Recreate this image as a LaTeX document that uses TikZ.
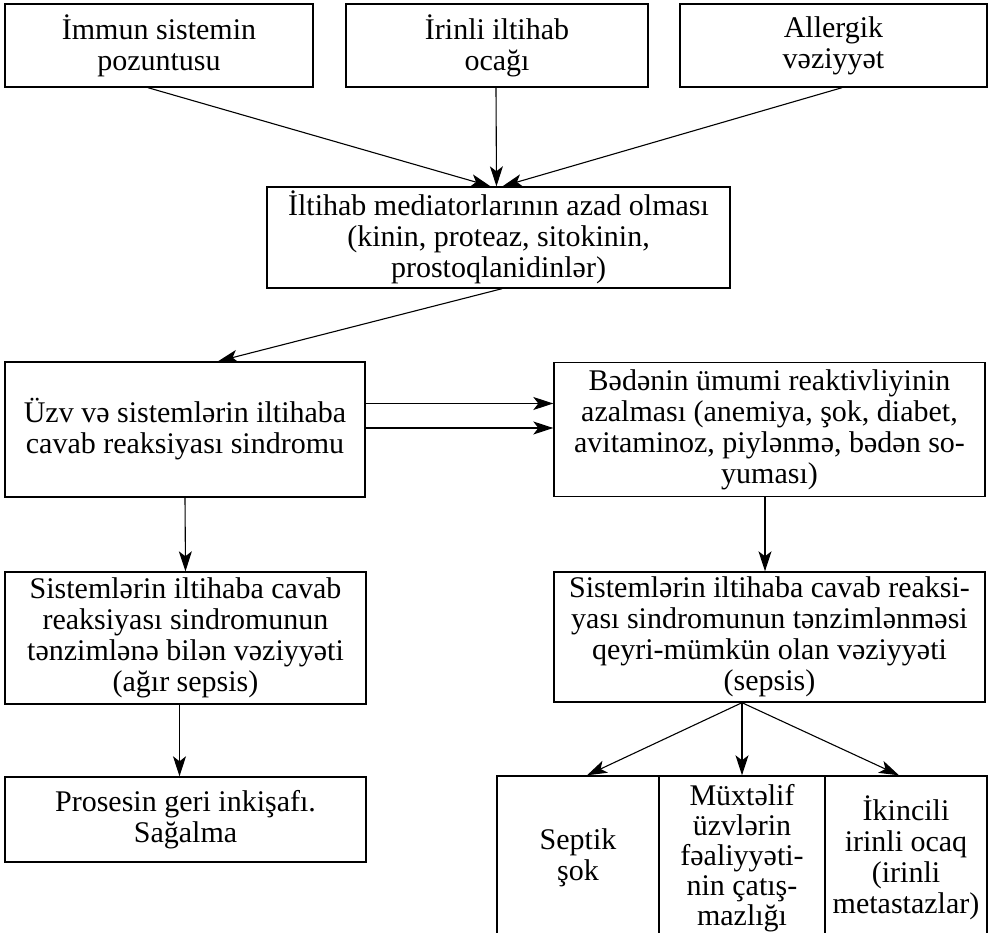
\documentclass[tikz,border=0pt]{standalone}
\usepackage{fontspec}
\setmainfont{Liberation Serif}
\usetikzlibrary{arrows.meta,calc}
\begin{document}
\begin{tikzpicture}[x=1pt,y=-1pt,
  box/.style={draw, line width=1.4pt, rectangle, inner sep=0pt, align=center, font=\fontsize{30}{31}\selectfont},
  arr/.style={line width=1.1pt, -{Stealth[length=20pt,width=13pt,inset=5pt]}}]
\useasboundingbox (0,0) rectangle (989,933);
\clip (0,0) rectangle (989,933);
% top row
\node[box, minimum width=308pt, minimum height=83pt] (b1) at (159,45.5) {İmmun sistemin\\pozuntusu};
\node[box, minimum width=302pt, minimum height=83pt] (b2) at (497,45.5) {İrinli iltihab\\ocağı};
\node[box, minimum width=307pt, minimum height=83pt] (b3) at (833.5,45.5) {Allergik\\vəziyyət};
% mediators
\node[box, minimum width=463pt, minimum height=101pt] (med) at (498.5,237.5) {İltihab mediatorlarının azad olması\\(kinin, proteaz, sitokinin,\\prostoqlanidinlər)};
% second level
\node[box, minimum width=360pt, minimum height=135pt] (uzv) at (185,429.5) {Üzv və sistemlərin iltihaba\\cavab reaksiyası sindromu};
\node[box, minimum width=431pt, minimum height=134pt] (bed) at (769.5,429.5) {Bədənin ümumi reaktivliyinin\\azalması (anemiya, şok, diabet,\\avitaminoz, piylənmə, bədən so-\\yuması)};
% third level
\node[box, minimum width=361pt, minimum height=132pt] (sl) at (185.5,638) {Sistemlərin iltihaba cavab\\reaksiyası sindromunun\\tənzimlənə bilən vəziyyəti\\(ağır sepsis)};
\node[box, minimum width=431pt, minimum height=130pt] (sr) at (769.5,637) {Sistemlərin iltihaba cavab reaksi-\\yası sindromunun tənzimlənməsi\\qeyri-mümkün olan vəziyyəti\\(sepsis)};
% bottom
\node[box, minimum width=361pt, minimum height=85pt] (pr) at (185.5,819.5) {Prosesin geri inkişafı.\\Sağalma};
\node[box, minimum width=162pt, minimum height=164pt] (m1) at (578,858) {Septik\\şok};
\node[box, minimum width=166pt, minimum height=164pt, font=\fontsize{30}{30}\selectfont] (m2) at (742,858) {Müxtəlif\\üzvlərin\\fəaliyyəti-\\nin çatış-\\mazlığı};
\node[box, minimum width=162pt, minimum height=164pt] (m3) at (906,858) {İkincili\\irinli ocaq\\(irinli\\metastazlar)};
% connectors
\draw[arr] ($(b1.south)+(-11,0)$) -- ($(med.north)+(-8,0)$);
\draw[arr] ($(b2.south)+(-1,0)$) -- ($(med.north)+(-2,0)$);
\draw[arr] ($(b3.south)+(8.5,0)$) -- ($(med.north)+(4,0)$);
\draw[arr] ($(med.south)+(3.5,0)$) -- ($(uzv.north)+(33,0)$);
\draw[arr] ($(uzv.east)+(0,-26)$) coordinate (h1) -- (h1 -| bed.west);
\draw[arr] ($(uzv.east)+(0,-1.5)$) coordinate (h2) -- (h2 -| bed.west);
\draw[arr] (uzv.south) -- (sl.north);
\draw[arr] ($(bed.south)+(-4.5,0)$) coordinate (v1) -- (v1 |- sr.north);
\draw[arr] ($(sl.south)+(-6,0)$) coordinate (v2) -- (v2 |- pr.north);
\coordinate (split) at (m2.north |- sr.south);
\draw[arr] (split) -- ($(m1.north)+(9,0)$);
\draw[arr] (split) -- (m2.north);
\draw[arr] (split) -- ($(m3.north)+(-7,0)$);
\end{tikzpicture}
\end{document}
